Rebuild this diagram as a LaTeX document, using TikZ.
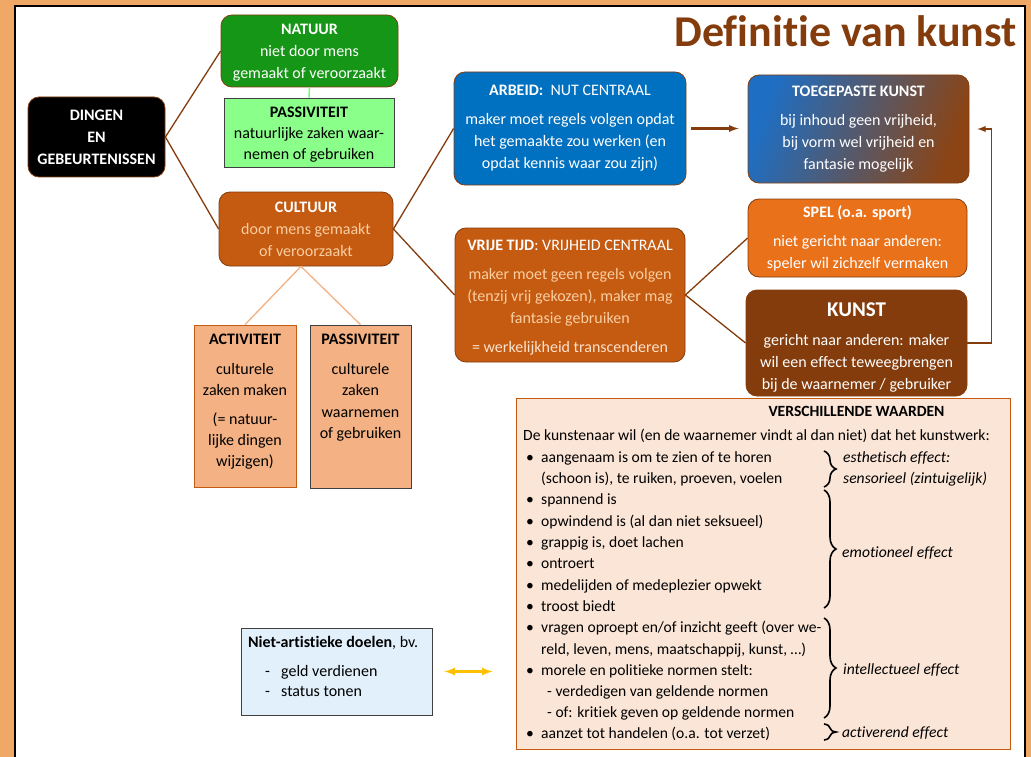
\documentclass[tikz,border=0pt]{standalone}
\usepackage{fontspec}
\setmainfont{Carlito}[Ligatures=NoCommon]
\usetikzlibrary{decorations.pathreplacing}
\definecolor{bgorange}{RGB}{240,168,102}
\definecolor{kbrown}{RGB}{132,60,12}
\definecolor{kgreen}{RGB}{22,150,22}
\definecolor{klgreen}{RGB}{138,255,138}
\definecolor{kcult}{RGB}{197,90,17}
\definecolor{kpeach}{RGB}{250,206,160}
\definecolor{kpale}{RGB}{252,226,205}
\definecolor{kblue}{RGB}{0,112,192}
\definecolor{tblue}{RGB}{30,110,195}
\definecolor{tmid}{RGB}{90,95,105}
\definecolor{tbrown}{RGB}{140,68,20}
\definecolor{kspel}{RGB}{233,113,26}
\definecolor{ksalmon}{RGB}{244,177,131}
\definecolor{kcream}{RGB}{251,229,214}
\definecolor{klblue}{RGB}{226,240,251}
\definecolor{kyellow}{RGB}{255,192,0}
\definecolor{kgray}{RGB}{64,64,64}
\tikzset{
  rbox/.style={draw=kbrown, line width=0.8pt, rounded corners=11pt, align=center, text=white, inner sep=0pt},
  sqbox/.style={draw=kgray, line width=0.8pt, align=center, inner sep=0pt},
  boxtxt/.style={anchor=north, align=center, inner sep=0pt},
  wtext/.style={anchor=base west, inner sep=0pt, font=\fontsize{15.6}{19}\selectfont},
  bul/.style={anchor=base, inner sep=0pt, font=\fontsize{15.6}{19}\selectfont},
  efftext/.style={anchor=base west, inner sep=0pt, font=\fontsize{15.6}{19}\selectfont\itshape},
  link/.style={draw=kbrown, line width=1.3pt},
  softlink/.style={draw=ksalmon, line width=1.3pt},
  brarrow/.style={draw=kbrown, line width=2.2pt, -latex},
  yarrow/.style={draw=kyellow, line width=2.6pt, latex-latex},
  effbrace/.style={draw=black, line width=1.6pt, decorate, decoration={brace, amplitude=12pt}}
}
\begin{document}
\begin{tikzpicture}[x=1pt, y=-1pt, font=\fontsize{16}{22}\selectfont]
\useasboundingbox (0,0) rectangle (1031,757);
\fill[bgorange] (0,0) rectangle (1031,757);
\fill[white] (15,6) rectangle (1025,757);
\draw[line width=2.5pt] (15,762) -- (15,6) -- (1025,6) -- (1025,762);

\node[anchor=base east, inner sep=0pt, text=kbrown, font=\fontsize{44}{50}\selectfont\bfseries] (titel) at (1017,47) {Definitie van kunst};

\node[rbox, fill=black, minimum width=137pt, minimum height=80pt] (dingen) at (96.5,137)
  {\textbf{DINGEN}\\\textbf{EN}\\\textbf{GEBEURTENISSEN}};
\node[rbox, fill=kgreen, minimum width=177pt, minimum height=72pt] (natuur) at (309.5,51) {};
\node[boxtxt, text=white] (natuurtxt) at ([yshift=-9pt]natuur.north)
  {\textbf{NATUUR}\\niet door  mens\\gemaakt of veroorzaakt};
\node[sqbox, fill=klgreen, minimum width=170pt, minimum height=69pt] (passnat) at (309,132.5) {};
\node[boxtxt] (passnattxt) at ([yshift=-9pt]passnat.north)
  {\textbf{PASSIVITEIT}\\[-1pt]natuurlijke zaken waar-\\[-1pt]nemen of gebruiken};
\node[rbox, fill=kcult, minimum width=174pt, minimum height=74pt] (cultuur) at (306,229)
  {\textbf{CULTUUR}\\\textcolor{kpeach}{door mens  gemaakt}\\\textcolor{kpeach}{of veroorzaakt}};

\node[sqbox, draw=kcult, fill=ksalmon, minimum width=102pt, minimum height=162pt] (activ) at (245,406) {};
\node[boxtxt] (activtxt) at ([yshift=-9pt]activ.north)
  {\textbf{ACTIVITEIT}\\[8pt]culturele\\[-1pt]zaken maken\\[7pt](= natuur-\\[-1pt]lijke dingen\\[-1pt]wijzigen)};
\node[sqbox, fill=ksalmon, minimum width=101pt, minimum height=163pt] (passcult) at (360.5,406.5) {};
\node[boxtxt] (passculttxt) at ([yshift=-9pt]passcult.north)
  {\textbf{PASSIVITEIT}\\[8pt]culturele\\[-1pt]zaken\\waarnemen\\[-1pt]of gebruiken};

\node[rbox, fill=kblue, minimum width=232pt, minimum height=113pt] (arbeid) at (570,128.5)
  {\textbf{ARBEID:}\ \ NUT CENTRAAL\\[7pt]maker moet regels volgen opdat\\het gemaakte zou werken (en\\opdat  kennis waar zou zijn)};
\node[rbox, left color=tblue, middle color=tmid, right color=tbrown, shading angle=70,
  minimum width=221pt, minimum height=108pt] (toegepast) at (858.5,129)
  {\textbf{TOEGEPASTE KUNST}\\[7pt]bij inhoud  geen vrijheid,\\bij vorm  wel vrijheid en\\fantasie mogelijk};
\node[rbox, fill=kcult, minimum width=230pt, minimum height=134pt] (vrijetijd) at (570,295) {};
\node[boxtxt, text=white] (vrijetijdtxt) at ([yshift=-12pt]vrijetijd.north)
  {\textbf{VRIJE TIJD}: VRIJHEID CENTRAAL\\[7pt]\textcolor{kpeach}{maker moet geen regels volgen}\\
   \textcolor{kpeach}{(tenzij vrij gekozen), maker mag}\\\textcolor{kpeach}{fantasie gebruiken}\\[7pt]
   \textcolor{kpale}{= werkelijkheid transcenderen}};
\node[rbox, fill=kspel, minimum width=219pt, minimum height=78pt] (spel) at (857.5,238)
  {\textbf{SPEL (o.a. sport)}\\[7pt]niet gericht naar anderen:\\speler wil zichzelf vermaken};
\node[rbox, fill=kbrown, minimum width=221pt, minimum height=106pt] (kunst) at (856.5,343) {};
\node[boxtxt, text=white] (kunsttxt) at ([yshift=-12.5pt]kunst.north)
  {{\fontsize{21}{22}\selectfont\textbf{KUNST}}\\[7pt]gericht naar anderen: maker\\wil een effect teweegbrengen\\bij de waarnemer  / gebruiker};

\draw[link] (dingen.east) -- (natuur.west);
\draw[link] (dingen.east) -- (cultuur.west);
\draw[draw=klgreen!80!green, line width=1.5pt] (natuur.south) -- (passnat.north);
\draw[softlink] ([xshift=-5pt]cultuur.south) -- (activ.north);
\draw[softlink] ([xshift=-5pt]cultuur.south) -- (passcult.north);
\draw[link] (cultuur.east) -- (arbeid.west);
\draw[link] (cultuur.east) -- (vrijetijd.west);
\draw[link] (vrijetijd.east) -- (spel.west);
\draw[link] (vrijetijd.east) -- (kunst.west);
\draw[brarrow, shorten <=5pt, shorten >=9pt] (arbeid.east) -- (arbeid.east -| toegepast.west);
\draw[brarrow, line width=1.8pt] (kunst.east) -- ++(24,0) |- ([xshift=8pt]toegepast.east);

\node[draw=kcult, fill=kcream, line width=0.8pt, minimum width=494pt, minimum height=351pt, inner sep=0pt] (waarden) at (763,573.5) {};
\node[bul, font=\fontsize{15.6}{19}\selectfont\bfseries] (wtitel) at (856.5,416) {VERSCHILLENDE WAARDEN};
\node[wtext] (wintro) at (523,440) {De kunstenaar wil (en de waarnemer vindt al dan niet) dat het kunstwerk:};
\node[bul] (b1) at (530,462) {\textbullet};
\node[wtext] (w1) at (541,462) {aangenaam is om te zien of te horen};
\node[wtext] (w1b) at (541,483.5) {(schoon is), te ruiken, proeven, voelen};
\node[bul] (b2) at (530,504.5) {\textbullet};
\node[wtext] (w2) at (541,504.5) {spannend is};
\node[bul] (b3) at (530,526) {\textbullet};
\node[wtext] (w3) at (541,526) {opwindend is (al dan niet seksueel)};
\node[bul] (b4) at (530,547) {\textbullet};
\node[wtext] (w4) at (541,547) {grappig is, doet lachen};
\node[bul] (b5) at (530,568.5) {\textbullet};
\node[wtext] (w5) at (541,568.5) {ontroert};
\node[bul] (b6) at (530,590) {\textbullet};
\node[wtext] (w6) at (541,590) {medelijden of medeplezier opwekt};
\node[bul] (b7) at (530,611) {\textbullet};
\node[wtext] (w7) at (541,611) {troost biedt};
\node[bul] (b8) at (530,632.5) {\textbullet};
\node[wtext] (w8) at (541,632.5) {vragen oproept en/of inzicht geeft (over we-};
\node[wtext] (w8b) at (541,654) {reld, leven, mens, maatschappij, kunst, …)};
\node[bul] (b9) at (530,675) {\textbullet};
\node[wtext] (w9) at (541,675) {morele en politieke normen stelt:};
\node[wtext] (w9b) at (547,696) {- verdedigen van geldende normen};
\node[wtext] (w9c) at (547,717.5) {- of: kritiek geven op geldende normen};
\node[bul] (b10) at (530,738) {\textbullet};
\node[wtext] (w10) at (541,738) {aanzet tot handelen (o.a. tot verzet)};

\draw[effbrace] (824,451) -- (824,487);
\draw[effbrace] (824,490) -- (824,608);
\draw[effbrace] (824,618) -- (824,718);
\draw[effbrace] (824,724) -- (824,740);
\node[efftext] (e1) at (843,462) {esthetisch effect:};
\node[efftext] (e1b) at (843,483.5) {sensorieel (zintuigelijk)};
\node[efftext] (e2) at (842,557) {emotioneel effect};
\node[efftext] (e3) at (843,674) {intellectueel effect};
\node[efftext] (e4) at (842,737) {activerend effect};

\node[sqbox, fill=klblue, minimum width=191pt, minimum height=87pt] (nietart) at (336.5,671.5) {};
\node[wtext, font=\fontsize{16}{19}\selectfont] (n0) at (248,647) {\textbf{Niet-artistieke doelen}, bv.};
\node[wtext, font=\fontsize{16}{19}\selectfont] (n1d) at (265,676) {-};
\node[wtext, font=\fontsize{16}{19}\selectfont] (n1) at (281,676) {geld verdienen};
\node[wtext, font=\fontsize{16}{19}\selectfont] (n2d) at (265,696) {-};
\node[wtext, font=\fontsize{16}{19}\selectfont] (n2) at (281,696) {status tonen};
\draw[yarrow, shorten <=12pt, shorten >=23pt] (nietart.east) -- (nietart.east -| waarden.west);
\end{tikzpicture}
\end{document}
